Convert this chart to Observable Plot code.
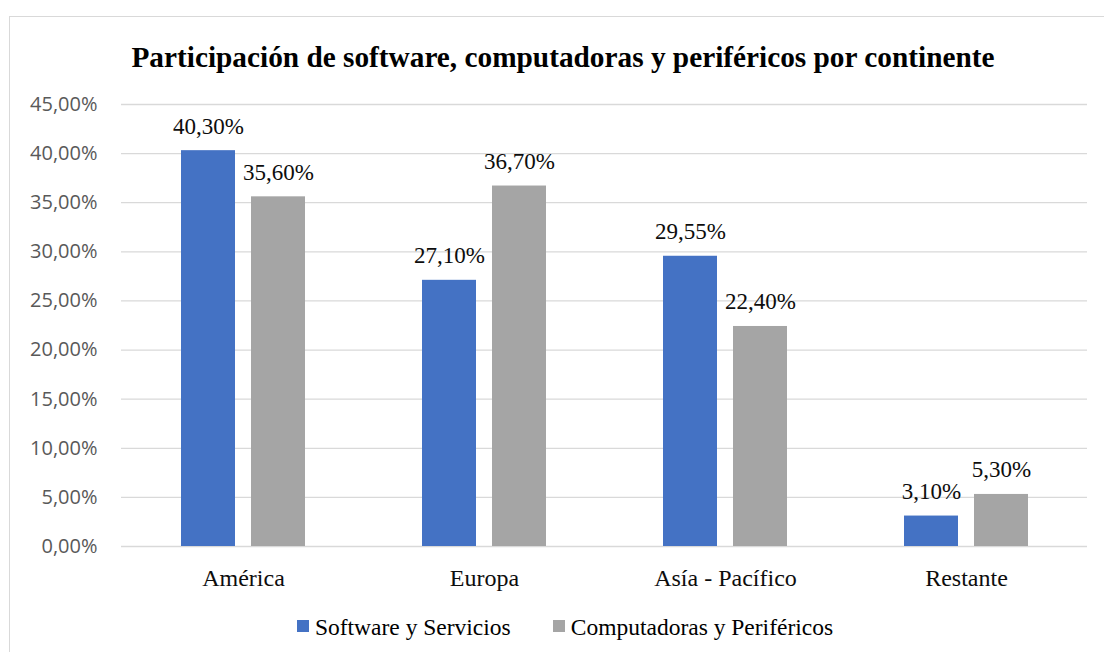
<!DOCTYPE html>
<html>
<head>
<meta charset="utf-8">
<script src="https://cdn.jsdelivr.net/npm/d3@7"></script>
<script src="https://cdn.jsdelivr.net/npm/@observablehq/plot@0.6"></script>
<style>
  html, body { margin: 0; padding: 0; background: #fff; overflow: hidden; }
  #frame { position: absolute; left: 9px; top: 16px; width: 1110px; height: 660px; border: 1px solid #d9d9d9; box-sizing: border-box; }
  #chart { position: absolute; left: 0; top: 0; width: 1104px; }
  #title { box-sizing: border-box; height: 84px; padding-top: 41px; padding-left: 22px; text-align: center;
           font-family: "Liberation Serif", "Times New Roman", serif; font-weight: bold; font-size: 29.3px; line-height: 32px; color: #000; white-space: nowrap; }
  #legend { box-sizing: border-box; height: 52px; padding-top: 13px; padding-left: 26px; text-align: center;
            font-family: "Liberation Serif", "Times New Roman", serif; font-size: 23.5px; line-height: 28px; color: #000; white-space: nowrap; }
  .item { display: inline-block; margin: 0 21px; }
  .sw { display: inline-block; width: 12px; height: 12px; margin-right: 6px; margin-bottom: 3px; vertical-align: baseline; }
  svg { display: block; }
  svg g.serif-label text { font-family: "Liberation Serif", "Times New Roman", serif; }
</style>
</head>
<body>
<div id="frame"></div>
<div id="chart">
  <div id="title">Participación de software, computadoras y periféricos por continente</div>
  <div id="plot"></div>
  <div id="legend"></div>
</div>
<script>
const continents = ["América", "Europa", "Asía - Pacífico", "Restante"];
const series = ["Software y Servicios", "Computadoras y Periféricos"];
const software = [0.403, 0.271, 0.2955, 0.031];
const computadoras = [0.356, 0.367, 0.224, 0.053];
const yTicks = [0, 0.05, 0.10, 0.15, 0.20, 0.25, 0.30, 0.35, 0.40, 0.45];
const colors = ["#4472C4", "#A5A5A5"];

const fmt = v => (v * 100).toFixed(2).replace(".", ",") + "%";

const rowsS = continents.map((c, i) => ({continent: c, series: series[0], value: software[i]}));
const rowsC = continents.map((c, i) => ({continent: c, series: series[1], value: computadoras[i]}));

const serif = "'Liberation Serif', 'Times New Roman', serif";
const bandInset = 70;   // gap + bar width split inside each category band
const labelShift = 35;

const chart = Plot.plot({
  width: 1104,
  height: 516,
  marginTop: 20,
  marginBottom: 54,
  marginLeft: 121,
  marginRight: 17,
  style: {fontFamily: "'Open Sans', sans-serif", background: "transparent"},
  x: {domain: continents, paddingInner: 0.487, paddingOuter: 0.2435},
  y: {domain: [0, 0.45]},
  color: {domain: series, range: colors},
  marks: [
    Plot.ruleY(yTicks, {stroke: "#d9d9d9", strokeWidth: 1.3}),
    Plot.barY(rowsS, {x: "continent", y: "value", fill: "series", insetRight: bandInset}),
    Plot.barY(rowsC, {x: "continent", y: "value", fill: "series", insetLeft: bandInset}),
    Plot.text(rowsS, {x: "continent", y: "value", text: d => fmt(d.value), dx: -labelShift, dy: -17, lineAnchor: "bottom",
      fontFamily: serif, fontSize: 23, fill: "#0d0d0d", className: "serif-label"}),
    Plot.text(rowsC, {x: "continent", y: "value", text: d => fmt(d.value), dx: labelShift, dy: -17, lineAnchor: "bottom",
      fontFamily: serif, fontSize: 23, fill: "#0d0d0d", className: "serif-label"}),
    Plot.axisY({ticks: yTicks, tickFormat: fmt, tickSize: 0, tickPadding: 24, label: null,
      fontSize: 20, fontFamily: "'Open Sans', sans-serif", fill: "#595959"}),
    Plot.axisX({tickSize: 0, tickPadding: 22, label: null, fontSize: 24, fontFamily: serif, fill: "#0d0d0d"})
  ]
});
document.getElementById("plot").appendChild(chart);

const legend = document.getElementById("legend");
series.forEach((s, i) => {
  const item = document.createElement("span");
  item.className = "item";
  const sw = document.createElement("span");
  sw.className = "sw";
  sw.style.background = colors[i];
  item.appendChild(sw);
  item.appendChild(document.createTextNode(s));
  legend.appendChild(item);
});
</script>
</body>
</html>
